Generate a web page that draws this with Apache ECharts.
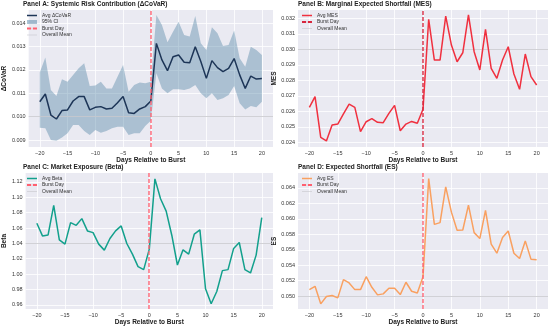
<!DOCTYPE html>
<html><head><meta charset="utf-8">
<script src="https://cdn.jsdelivr.net/npm/echarts@6/dist/echarts.min.js"></script>
<style>html,body{margin:0;padding:0;background:#fff}#c{width:550px;height:327px}</style>
</head><body><div id="c"></div>
<script>
const days = [-20,-19,-18,-17,-16,-15,-14,-13,-12,-11,-10,-9,-8,-7,-6,-5,-4,-3,-2,-1,0,1,2,3,4,5,6,7,8,9,10,11,12,13,14,15,16,17,18,19,20];
const xTicks = [-20,-15,-10,-5,0,5,10,15,20];
const burstDay = 0;

const covar = [0.01064,0.01097,0.01007,0.00990,0.01026,0.01029,0.01067,0.01086,0.01086,0.01029,0.01040,0.01043,0.01033,0.01036,0.01060,0.01086,0.01017,0.01014,0.01033,0.01043,0.01067,
  0.01314,0.01243,0.01197,0.01257,0.01264,0.01233,0.01231,0.01300,0.01236,0.01164,0.01240,0.01210,0.01193,0.01207,0.01249,0.01179,0.01121,0.01174,0.01161,0.01163];
const covarUpper = [0.01189,0.01254,0.01114,0.01089,0.01160,0.01150,0.01179,0.01207,0.01229,0.01131,0.01133,0.01150,0.01121,0.01121,0.01171,0.01221,0.01107,0.01136,0.01146,0.01143,0.01150,
  0.01436,0.01393,0.01319,0.01364,0.01407,0.01350,0.01343,0.01431,0.01314,0.01286,0.01383,0.01357,0.01303,0.01307,0.01369,0.01250,0.01214,0.01300,0.01286,0.01264];
const covarLower = [0.00953,0.00950,0.00900,0.00897,0.00911,0.00929,0.00964,0.00964,0.00939,0.00921,0.00943,0.00931,0.00939,0.00950,0.00957,0.00957,0.00921,0.00929,0.00929,0.00960,0.00983,
  0.01186,0.01121,0.01100,0.01117,0.01117,0.01114,0.01121,0.01136,0.01100,0.01079,0.01100,0.01071,0.01079,0.01093,0.01131,0.01057,0.01031,0.01046,0.01040,0.01064];
const mes = [0.02626,0.02695,0.02432,0.02409,0.02512,0.02518,0.02583,0.02647,0.02626,0.02469,0.02533,0.02553,0.02529,0.02527,0.02587,0.02639,0.02475,0.02518,0.02535,0.02523,0.02613,
  0.03194,0.02931,0.02931,0.03215,0.03028,0.02920,0.02978,0.03222,0.02985,0.02867,0.03129,0.02877,0.02813,0.02931,0.03017,0.02841,0.02742,0.02970,0.02824,0.02770];
const beta = [1.0661,1.0497,1.0510,1.0894,1.0446,1.0390,1.0670,1.0635,1.0722,1.0562,1.0540,1.0390,1.0312,1.0463,1.0562,1.0627,1.0398,1.0260,1.0097,1.0058,1.0325,
  1.1239,1.0980,1.0820,1.0506,1.0118,1.0316,1.0260,1.0519,1.0575,0.9808,0.9614,0.9773,1.0045,1.0058,1.0334,1.0411,1.0058,1.0015,1.0247,1.0734];
const es = [0.05085,0.05128,0.04901,0.04995,0.05008,0.04978,0.05214,0.05171,0.05085,0.05085,0.05252,0.05115,0.05017,0.05030,0.05102,0.05102,0.05021,0.05180,0.05064,0.05042,0.05252,
  0.06520,0.05929,0.05951,0.06413,0.06087,0.05852,0.05856,0.06177,0.05822,0.05745,0.06109,0.05672,0.05556,0.05758,0.05843,0.05556,0.05488,0.05715,0.05479,0.05471];

const yTicksA = [0.009,0.010,0.011,0.012,0.013,0.014];
const yTicksB = [0.024,0.025,0.026,0.027,0.028,0.029,0.030,0.031,0.032];
const yTicksC = [0.96,0.98,1.00,1.02,1.04,1.06,1.08,1.10,1.12];
const yTicksD = [0.050,0.052,0.054,0.056,0.058,0.060,0.062,0.064];

const mean = a => a.reduce((s,v)=>s+v,0)/a.length;
const pairs = a => days.map((d,i)=>[d,a[i]]);

const BG = '#EAEAF2';
const TXT = '#333';
const grids = [
  {left:23, top:10, width:250, height:137},
  {left:298, top:10, width:250, height:137},
  {left:23, top:173, width:250, height:137},
  {left:298, top:173, width:250, height:137}
];
const yr = [[0.0087,0.01457],[0.0237,0.03254],[0.9544,1.1316],[0.04833,0.06593]];
const yt = [yTicksA,yTicksB,yTicksC,yTicksD];
const yDec = [3,3,2,3];
const yNames = ['\u0394CoVaR','MES','Beta','ES'];
const titles = ['Panel A: Systemic Risk Contribution (\u0394CoVaR)','Panel B: Marginal Expected Shortfall (MES)','Panel C: Market Exposure (Beta)','Panel D: Expected Shortfall (ES)'];

const xAxis = grids.map((g,i)=>({
  type:'value', gridIndex:i, min:-22, max:22,
  name:'Days Relative to Burst', nameLocation:'middle', nameGap:8,
  nameTextStyle:{fontSize:6.5, fontWeight:'bold', color:'#222', fontFamily:'Liberation Sans'},
  axisLine:{show:false, onZero:false}, axisTick:{show:false, customValues:xTicks},
  axisLabel:{customValues:xTicks, fontSize:5.5, color:TXT, margin:3, fontFamily:'Liberation Sans',
    formatter:v=> v<0 ? '\u2212'+Math.abs(v) : String(v)},
  splitLine:{show:true, lineStyle:{color:'#fff', width:0.8}}
}));
const yAxis = grids.map((g,i)=>({
  type:'value', gridIndex:i, min:yr[i][0], max:yr[i][1],
  name:yNames[i], nameLocation:'middle', nameGap:14, nameRotate:90,
  nameTextStyle:{fontSize:6.5, fontWeight:'bold', color:'#222', fontFamily:'Liberation Sans'},
  axisLine:{show:false, onZero:false}, axisTick:{show:false, customValues:yt[i]},
  axisLabel:{customValues:yt[i], fontSize:5.5, color:TXT, margin:3, fontFamily:'Liberation Sans',
    formatter:v=>v.toFixed(yDec[i])},
  splitLine:{show:true, lineStyle:{color:'#fff', width:0.8}}
}));

function burst(i, color){
  return {name:'Burst Day', type:'custom', xAxisIndex:i, yAxisIndex:i, z:6, silent:true,
    color:color, itemStyle:{color:color},
    data:[[burstDay]],
    renderItem:(params, api)=>{
      const p0 = api.coord([api.value(0), yr[i][0]]);
      const p1 = api.coord([api.value(0), yr[i][1]]);
      const x = Math.round(p0[0]);
      return {type:'line', shape:{x1:x, y1:p0[1], x2:x, y2:p1[1]},
        style:{stroke:color, lineWidth:1.5, lineDash:[4,2], fill:null, opacity:0.9}};
    }};
}
function meanLine(i, arr){
  return {name:'Overall Mean', type:'line', xAxisIndex:i, yAxisIndex:i, data:[], symbol:'none',
    color:'#c6c6cc',
    lineStyle:{color:'#c6c6cc', width:0.8}, itemStyle:{color:'#c6c6cc'},
    markLine:{silent:true, symbol:['none','none'], label:{show:false},
      lineStyle:{color:'#c6c6cc', width:0.8, type:'solid'}, data:[{yAxis:mean(arr)}]}, z:1};
}
function mainLine(i, name, arr, color){
  return {name:name, type:'line', xAxisIndex:i, yAxisIndex:i, data:pairs(arr), symbol:'none',
    color:color, lineStyle:{color:color, width:1.5}, itemStyle:{color:color}, z:5};
}

const band = {
  name:'95% CI', type:'custom', xAxisIndex:0, yAxisIndex:0, z:2,
  color:'rgba(69,123,157,0.38)',
  itemStyle:{color:'rgba(69,123,157,0.38)'},
  data: days.map((d,i)=>[d, covarLower[i], covarUpper[i]]),
  renderItem:(params, api)=>{
    if (params.dataIndex !== 0) return;
    const pts = [];
    for (let k=0;k<days.length;k++) pts.push(api.coord([days[k], covarUpper[k]]));
    for (let k=days.length-1;k>=0;k--) pts.push(api.coord([days[k], covarLower[k]]));
    return {type:'polygon', shape:{points:pts}, style:{fill:'rgba(69,123,157,0.38)', stroke:null}};
  }
};

const navy='#1D3557', red='#F0303F', teal='#12A08C', orange='#F9A060';
const burstPink='#FF6070', burstDark='#D7263D';

const ICON_SOLID = 'path://M0,0 L20,0 L20,3 L0,3 Z';
const ICON_THIN = 'path://M0,0 L20,0 L20,1.2 L0,1.2 Z';
const ICON_DASH = 'path://M0,0 L7,0 L7,3 L0,3 Z M10,0 L17,0 L17,3 L10,3 Z';
const ICON_RECT = 'rect';

function legendFor(left, top, mainName, hasCI, burstColor, lineColor){
  const d = [{name:mainName, icon:ICON_SOLID, itemStyle:{color:lineColor}}];
  if (hasCI) d.push({name:'95% CI', icon:ICON_RECT, itemStyle:{color:'rgba(69,123,157,0.45)'}});
  d.push({name:'Burst Day', icon:ICON_DASH, itemStyle:{color:burstColor}});
  d.push({name:'Overall Mean', icon:ICON_THIN, itemStyle:{color:'#c6c6cc'}});
  return {orient:'vertical', left:left, top:top, itemWidth:10, itemHeight:4, itemGap:1.5,
    textStyle:{fontSize:5, color:'#333', fontFamily:'Liberation Sans', lineHeight:5},
    selectedMode:false, padding:0, data:d, itemStyle:{borderWidth:0}, lineStyle:{width:0}};
}
const legends = [
  legendFor(27, 13, 'Avg \u0394CoVaR', true, burstPink, navy),
  legendFor(302, 13, 'Avg MES', false, burstDark, red),
  legendFor(27, 176, 'Avg Beta', false, burstPink, teal),
  legendFor(302, 176, 'Avg ES', false, burstPink, orange)
];

const option = {
  animation:false,
  backgroundColor:'#fff',
  title: titles.map((t,i)=>({text:t, left: grids[i].left, top: grids[i].top-9,
    textStyle:{fontSize:6.5, fontWeight:'bold', color:'#222', fontFamily:'Liberation Sans'}, padding:0})),
  grid: grids.map(g=>Object.assign({show:true, backgroundColor:BG, borderWidth:0}, g)),
  legend: legends,
  xAxis, yAxis,
  series:[
    band,
    meanLine(0, covar), burst(0, burstPink), mainLine(0,'Avg \u0394CoVaR', covar, navy),
    meanLine(1, mes), burst(1, burstDark), mainLine(1,'Avg MES', mes, red),
    meanLine(2, beta), burst(2, burstPink), mainLine(2,'Avg Beta', beta, teal),
    meanLine(3, es), burst(3, burstPink), mainLine(3,'Avg ES', es, orange)
  ]
};
const chart = echarts.init(document.getElementById('c'), null, {renderer:'canvas'});
chart.setOption(option);
</script></body></html>
